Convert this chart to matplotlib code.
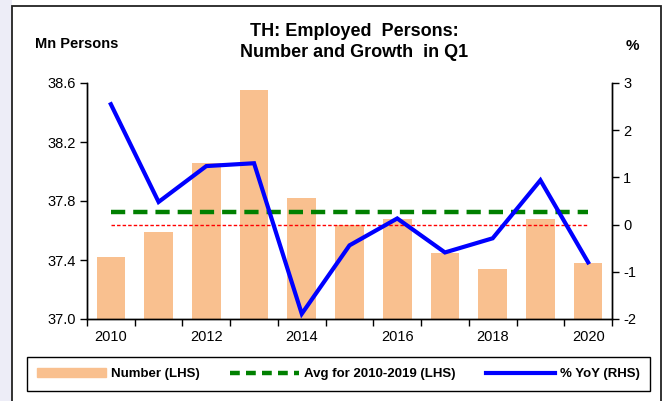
import matplotlib.pyplot as plt
import matplotlib.patches as mpatches
from matplotlib.lines import Line2D
import numpy as np

plt.rcParams['font.family'] = ['Liberation Sans', 'DejaVu Sans']
plt.rcParams['axes.unicode_minus'] = False

years = ['2010', '2011', '2012', '2013', '2014', '2015', '2016', '2017', '2018', '2019', '2020']
employed = [37.42, 37.59, 38.06, 38.55, 37.82, 37.64, 37.68, 37.45, 37.34, 37.68, 37.38]
yoy = [2.55, 0.48, 1.24, 1.30, -1.89, -0.44, 0.13, -0.59, -0.29, 0.94, -0.80]
avg_years = 10  # 2010-2019
avg = np.mean(employed[:avg_years])

W, H = 668, 401
fig = plt.figure(figsize=(W / 100, H / 100), dpi=100)
fig.patch.set_facecolor('white')

# lavender strip at the left and the outer frame
fig.add_artist(mpatches.Rectangle((0, 0), 12 / W, 1, transform=fig.transFigure,
                                  facecolor='#ededf7', edgecolor='none', zorder=0))
fig.add_artist(mpatches.Rectangle((12 / W, -0.05), (661 - 12) / W, 1.05 - 6 / H,
                                  transform=fig.transFigure, facecolor='none',
                                  edgecolor='#222222', linewidth=1.3, zorder=1))

ax = fig.add_axes([87 / W, 1 - 319 / H, (612 - 87) / W, (319 - 83) / H])
ax2 = ax.twinx()
ax.set_zorder(1)
ax2.set_zorder(2)
ax.patch.set_visible(False)

x = np.arange(len(years))
ax.bar(x, employed, width=0.6, color='#f9c08f', zorder=2)
ax.plot([0, 10], [avg, avg], color='#008000', linewidth=3.2, dashes=(3.2, 1.8), zorder=3)
ax2.plot([0, 10], [0, 0], color='#ff0000', linewidth=1.0, dashes=(2.5, 1.5))
ax2.plot(x, yoy, color='blue', linewidth=3.0, solid_joinstyle='miter')

ax.set_xlim(-0.5, 10.5)
ax.set_ylim(37.0, 38.6)
ax.set_yticks([37.0, 37.4, 37.8, 38.2, 38.6])
ax.set_yticklabels(['37.0', '37.4', '37.8', '38.2', '38.6'])
ax2.set_ylim(-2, 3)
ax2.set_yticks([-2, -1, 0, 1, 2, 3])

ax.set_xticks(x[::2])
ax.set_xticklabels(years[::2])
ax.set_xticks(np.arange(-0.5, 11, 1), minor=True)
ax.tick_params(axis='x', which='major', length=0, labelsize=10.5, pad=8)
ax.tick_params(axis='x', which='minor', length=5, width=1, direction='out')
ax.tick_params(axis='y', length=5, width=1, labelsize=10.5, pad=3)
ax2.tick_params(axis='y', length=5, width=1, labelsize=10.5, pad=3)

for a in (ax, ax2):
    a.spines['top'].set_visible(False)
    for s in ('left', 'right', 'bottom'):
        a.spines[s].set_linewidth(1.0)

fig.text(354 / W, 1 - 42 / H, 'TH: Employed  Persons:\nNumber and Growth  in Q1',
         ha='center', va='center', fontsize=13, fontweight='bold', linespacing=1.3)
fig.text(35 / W, 1 - 44 / H, 'Mn Persons', ha='left', va='center',
         fontsize=10.5, fontweight='bold')
fig.text(632 / W, 1 - 46 / H, '%', ha='center', va='center',
         fontsize=11, fontweight='bold')

handles = [mpatches.Patch(color='#f9c08f'),
           Line2D([], [], color='#008000', linewidth=3.2, dashes=(2.2, 1.4)),
           Line2D([], [], color='blue', linewidth=3.0)]
labels = ['Number (LHS)', 'Avg for 2010-2019 (LHS)', '% YoY (RHS)']
leg = fig.legend(handles, labels, loc='center', bbox_to_anchor=(338.5 / W, 1 - 374 / H),
                 ncol=3, fancybox=False, edgecolor='black', framealpha=1,
                 prop={'weight': 'bold', 'size': 9.5}, handlelength=5.2,
                 handleheight=0.6, columnspacing=2.3, borderpad=0.8, handletextpad=0.4)
leg.get_frame().set_linewidth(1.0)

fig.savefig('out.png', dpi=100)
